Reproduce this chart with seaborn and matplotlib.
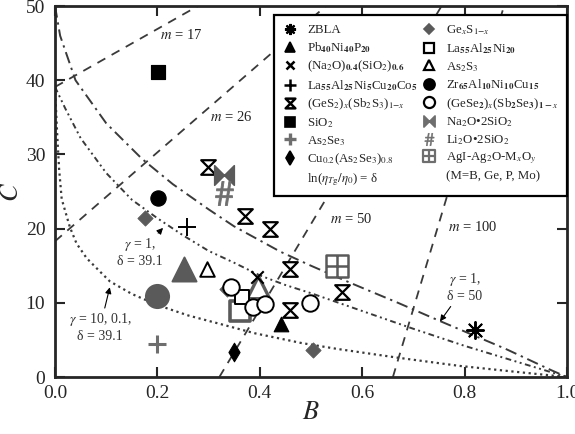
import matplotlib
matplotlib.use('Agg')
import matplotlib.pyplot as plt
from matplotlib.lines import Line2D
from matplotlib.path import Path
import seaborn as sns

# ------------------------------------------------
# DATA
# ------------------------------------------------
# model curves C(B)
up_B = [0.0, 0.01, 0.04, 0.10, 0.17, 0.23, 0.30, 0.35, 0.44, 0.50, 0.58, 0.67, 0.75, 0.88, 0.97, 1.0]
up_C = [50.0, 46.0, 40.0, 34.2, 29.4, 26.0, 22.6, 20.3, 16.9, 15.0, 12.6, 10.0, 7.6, 3.8, 0.9, 0.0]

mid_B = [0.0, 0.02, 0.05, 0.10, 0.15, 0.20, 0.25, 0.30, 0.35, 0.40, 0.45, 0.50, 0.60, 0.70, 0.80, 0.90, 1.0]
mid_C = [39.1, 36.2, 32.2, 27.5, 23.9, 21.4, 19.1, 17.0, 15.4, 13.7, 12.4, 11.3, 8.9, 6.5, 4.2, 2.1, 0.0]

low_B = [0.0, 0.004, 0.008, 0.013, 0.029, 0.042, 0.062, 0.088, 0.107, 0.15, 0.20, 0.26, 0.32,
         0.39, 0.48, 0.55, 0.67, 0.79, 0.90, 1.0]
low_C = [39.1, 33.0, 28.0, 24.0, 20.2, 18.0, 16.0, 14.2, 12.9, 11.2, 9.7, 8.3, 7.2,
         5.9, 4.6, 3.8, 2.6, 1.5, 0.7, 0.0]

# iso-fragility lines (end points)
m_vals = [17, 26, 50, 100]
m_B0 = [0.0, 0.0, 0.321, 0.660]
m_C0 = [39.1, 18.3, 0.0, 0.0]
m_B1 = [0.279, 0.529, 0.755, 0.877]
m_C1 = [50.0, 50.0, 50.0, 50.0]
m_lab_B = [0.246, 0.344, 0.578, 0.816]
m_lab_C = [46.1, 35.0, 21.3, 20.2]

# glasses
zbla_B, zbla_C = [0.82], [6.4]
pb_B, pb_C = [0.441], [7.1]
na2o_B, na2o_C = [0.394], [13.5]
laco_B, laco_C = [0.257], [20.2]
ges2_B = [0.298, 0.371, 0.42, 0.459, 0.459, 0.56]
ges2_C = [28.3, 21.7, 20.0, 14.6, 9.0, 11.5]
sio2_B, sio2_C = [0.201], [41.1]
as2se3_B, as2se3_C = [0.2], [4.4]
cu_B, cu_C = [0.35], [3.4]
gexs_B, gexs_C = [0.176, 0.335, 0.503], [21.4, 11.9, 3.6]
lani_B, lani_C = [0.366], [10.8]
as2s3_B, as2s3_C = [0.297], [14.6]
zr_B, zr_C = [0.202], [24.1]
gese2_B, gese2_C = [0.344, 0.387, 0.41, 0.498], [12.1, 9.5, 9.9, 10.0]
na2si_B, na2si_C = [0.331], [27.2]
li2si_B, li2si_C = [0.331], [24.8]
agi_B, agi_C = [0.551], [14.9]

# large grey symbols (no legend entry)
gtri_B, gtri_C = [0.251], [14.6]
gcir_B, gcir_C = [0.2], [10.9]
gsq_B, gsq_C = [0.361], [8.9]
gotri_B, gotri_C = [0.396], [12.2]

# ------------------------------------------------
# STYLE
# ------------------------------------------------
sns.set_style('ticks')
plt.rcParams['font.family'] = ['Liberation Serif', 'DejaVu Serif']
plt.rcParams['mathtext.fontset'] = 'stix'

MOVE, LINE, CLOSE = Path.MOVETO, Path.LINETO, Path.CLOSEPOLY
hourglass = Path([(-1, 1), (1, 1), (0, 0), (1, -1), (-1, -1), (0, 0), (0, 0)],
                 [MOVE, LINE, LINE, LINE, LINE, LINE, CLOSE])
bowtie = Path([(-1, 1), (0, 0), (1, 1), (1, -1), (0, 0), (-1, -1), (-1, 1)],
              [MOVE, LINE, LINE, LINE, LINE, LINE, CLOSE])
sqcross = Path([(-1, -1), (1, -1), (1, 1), (-1, 1), (-1, -1), (0, -1), (0, 1), (-1, 0), (1, 0)],
               [MOVE, LINE, LINE, LINE, CLOSE, MOVE, LINE, MOVE, LINE])
star8 = (8, 2, 0)
grey = '#5a5a5a'
lgrey = '#6e6e6e'

fig = plt.figure(figsize=(5.75, 4.34), dpi=100)
ax = fig.add_axes([0.0957, 0.1313, 0.8903, 0.8547])

# ------------------------------------------------
# LINES
# ------------------------------------------------
for b0, c0, b1, c1 in zip(m_B0, m_C0, m_B1, m_C1):
    ax.plot([b0, b1], [c0, c1], color='#3a3a3a', lw=1.3, ls=(0, (5, 4)), zorder=1)
for m, bx, cy in zip(m_vals, m_lab_B, m_lab_C):
    ax.text(bx, cy, f'$m$ = {m}', fontsize=10.5, ha='center', va='center', color='#222')

ax.plot(up_B, up_C, color='#3a3a3a', lw=1.4, ls=(0, (6, 2.5, 1.2, 2.5)), zorder=1)
ax.plot(mid_B, mid_C, color='#3a3a3a', lw=1.4, ls=(0, (3, 1.8, 1, 1.8, 1, 1.8)), zorder=1)
ax.plot(low_B, low_C, color='#3a3a3a', lw=1.6, ls=(0, (1, 1.6)), zorder=1)

# ------------------------------------------------
# POINTS
# ------------------------------------------------
sns.scatterplot(x=gtri_B, y=gtri_C, ax=ax, marker='^', s=300, color=grey, edgecolor=grey, zorder=3)
sns.scatterplot(x=gcir_B, y=gcir_C, ax=ax, marker='o', s=280, color=grey, edgecolor=grey, zorder=3)
sns.scatterplot(x=gsq_B, y=gsq_C, ax=ax, marker='s', s=190, color='white', edgecolor=grey,
                linewidth=2.6, zorder=3)
sns.scatterplot(x=gotri_B, y=gotri_C, ax=ax, marker='^', s=260, color='white', edgecolor=grey,
                linewidth=2.4, zorder=3)

sns.scatterplot(x=zbla_B, y=zbla_C, ax=ax, marker=star8, s=150, color='k', linewidth=1.4, zorder=4)
sns.scatterplot(x=pb_B, y=pb_C, ax=ax, marker='^', s=110, color='k', edgecolor='k', zorder=4)
sns.scatterplot(x=na2o_B, y=na2o_C, ax=ax, marker='x', s=80, color='k', linewidth=1.5, zorder=4)
sns.scatterplot(x=laco_B, y=laco_C, ax=ax, marker='+', s=150, color='k', linewidth=1.4, zorder=4)
sns.scatterplot(x=ges2_B, y=ges2_C, ax=ax, marker=hourglass, s=110, color='white', edgecolor='k',
                linewidth=1.6, zorder=4)
sns.scatterplot(x=sio2_B, y=sio2_C, ax=ax, marker='s', s=110, color='k', edgecolor='k', zorder=4)
sns.scatterplot(x=as2se3_B, y=as2se3_C, ax=ax, marker='+', s=150, color=lgrey, linewidth=2.2, zorder=4)
sns.scatterplot(x=cu_B, y=cu_C, ax=ax, marker='d', s=90, color='k', edgecolor='k', zorder=4)
sns.scatterplot(x=gexs_B, y=gexs_C, ax=ax, marker='D', s=60, color=grey, edgecolor=grey, zorder=4)
sns.scatterplot(x=lani_B, y=lani_C, ax=ax, marker='s', s=110, color='white', edgecolor='k',
                linewidth=1.4, zorder=4)
sns.scatterplot(x=as2s3_B, y=as2s3_C, ax=ax, marker='^', s=110, color='white', edgecolor='k',
                linewidth=1.4, zorder=4)
sns.scatterplot(x=zr_B, y=zr_C, ax=ax, marker='o', s=120, color='k', edgecolor='k', zorder=4)
sns.scatterplot(x=gese2_B, y=gese2_C, ax=ax, marker='o', s=140, color='white', edgecolor='k',
                linewidth=1.4, zorder=4)
sns.scatterplot(x=na2si_B, y=na2si_C, ax=ax, marker=bowtie, s=200, color=grey, edgecolor=grey, zorder=4)
sns.scatterplot(x=li2si_B, y=li2si_C, ax=ax, marker=r'$\#$', s=300, color=lgrey, edgecolor=lgrey,
                linewidth=0.6, zorder=4)
sns.scatterplot(x=agi_B, y=agi_C, ax=ax, marker=sqcross, s=230, color='white', edgecolor=grey,
                linewidth=1.8, zorder=4)

# ------------------------------------------------
# ANNOTATIONS
# ------------------------------------------------
arw = dict(arrowstyle='-|>', lw=0.8, color='k', mutation_scale=9, shrinkA=0, shrinkB=0)
ax.annotate('$\\gamma$ = 1,\nδ = 39.1', xy=(0.211, 20.1), xytext=(0.166, 16.8), fontsize=10,
            ha='center', va='center', color='#333', arrowprops=arw)
ax.annotate('$\\gamma$ = 10, 0.1,\nδ = 39.1', xy=(0.107, 12.1), xytext=(0.088, 6.7), fontsize=10,
            ha='center', va='center', color='#333', arrowprops=arw)
ax.annotate('$\\gamma$ = 1,\nδ = 50', xy=(0.752, 7.5), xytext=(0.80, 12.1), fontsize=10,
            ha='center', va='center', color='#333', arrowprops=arw)

# ------------------------------------------------
# AXES
# ------------------------------------------------
ax.set_xlim(0, 1)
ax.set_ylim(0, 50)
ax.set_xticks([0.0, 0.2, 0.4, 0.6, 0.8, 1.0])
ax.set_yticks([0, 10, 20, 30, 40, 50])
ax.tick_params(direction='in', length=7, width=1.5, top=True, right=True, labelsize=14)
ax.tick_params(axis='x', pad=6)
ax.tick_params(axis='y', pad=7)
for sp in ax.spines.values():
    sp.set_linewidth(2)
ax.set_xlabel('$B$', fontsize=19, labelpad=0)
ax.set_ylabel('$C$', fontsize=19, labelpad=2)

# ------------------------------------------------
# LEGEND
# ------------------------------------------------
def h(marker, ms, mfc, mec, mew=1.2):
    return Line2D([], [], ls='none', marker=marker, ms=ms, mfc=mfc, mec=mec, mew=mew)

blank = Line2D([], [], ls='none')
handles = [
    h(star8, 8, 'k', 'k', 1.6),
    h('^', 7, 'k', 'k'),
    h('x', 6, 'k', 'k', 1.8),
    h('+', 8, 'k', 'k', 1.8),
    h(hourglass, 7, 'white', 'k', 1.8),
    h('s', 7, 'k', 'k'),
    h('+', 8, lgrey, lgrey, 2.4),
    h('d', 7, 'k', 'k'),
    blank,
    h('D', 5.5, grey, grey),
    h('s', 7, 'white', 'k', 1.6),
    h('^', 7, 'white', 'k', 1.6),
    h('o', 8, 'k', 'k'),
    h('o', 8, 'white', 'k', 1.6),
    h(bowtie, 8, lgrey, lgrey),
    h(r'$\#$', 9, lgrey, lgrey, 0.4),
    h(sqcross, 8, 'white', lgrey, 1.6),
    blank,
]
labels = [
    'ZBLA',
    r'Pb$_{\mathbf{40}}$Ni$_{\mathbf{40}}$P$_{\mathbf{20}}$',
    r'(Na$_2$O)$_{\mathbf{0.4}}$(SiO$_2$)$_{\mathbf{0.6}}$',
    r'La$_{\mathbf{55}}$Al$_{\mathbf{25}}$Ni$_{\mathbf{5}}$Cu$_{\mathbf{20}}$Co$_{\mathbf{5}}$',
    r'(GeS$_2$)$_x$(Sb$_2$S$_3$)$_{1\mathrm{-}x}$',
    r'SiO$_2$',
    r'As$_2$Se$_3$',
    r'Cu$_{0.2}$(As$_2$Se$_3$)$_{0.8}$',
    r'ln($\eta_{T\mathrm{g}}/\eta_0$) = δ',
    r'Ge$_x$S$_{1\mathrm{-}x}$',
    r'La$_{\mathbf{55}}$Al$_{\mathbf{25}}$Ni$_{\mathbf{20}}$',
    r'As$_2$S$_3$',
    r'Zr$_{\mathbf{65}}$Al$_{\mathbf{10}}$Ni$_{\mathbf{10}}$Cu$_{\mathbf{15}}$',
    r'(GeSe$_{\mathbf{2}}$)$_x$(Sb$_{\mathbf{2}}$Se$_{\mathbf{3}}$)$_{\mathbf{1-}x}$',
    r'Na$_2$O•2SiO$_2$',
    r'Li$_2$O•2SiO$_2$',
    r'AgI-Ag$_2$O-M$_x$O$_y$',
    '(M=B, Ge, P, Mo)',
]
leg = ax.legend(handles, labels, ncol=2, loc='upper left', bbox_to_anchor=(0.428, 0.976),
                fontsize=9.3, frameon=True, fancybox=False, edgecolor='k', framealpha=1,
                borderaxespad=0, borderpad=0.65, labelspacing=0.3, handlelength=1.2,
                handletextpad=0.7, columnspacing=0.3)
leg.get_frame().set_linewidth(1.6)
leg.set_zorder(6)

fig.savefig('out.png', dpi=100)
